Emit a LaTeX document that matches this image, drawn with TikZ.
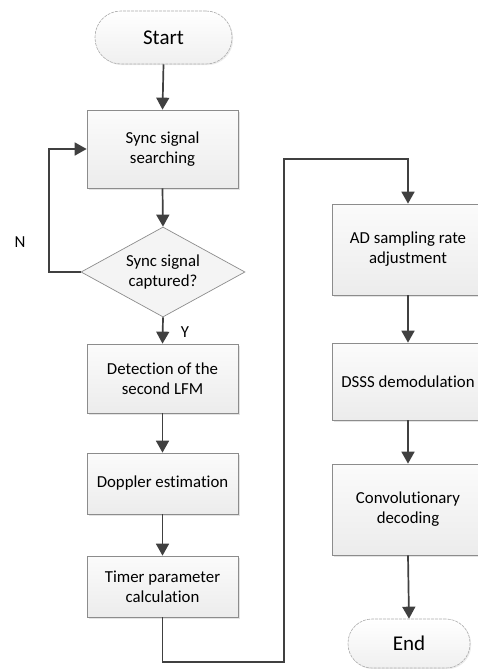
\documentclass[tikz,border=0pt]{standalone}
\usepackage{fontspec}
\setmainfont{Carlito}[Ligatures=NoCommon]
\usetikzlibrary{arrows.meta,shapes.geometric,shadows,calc}
\definecolor{linec}{HTML}{404040}
\definecolor{edgec}{HTML}{8C8C8C}
\begin{document}
\begin{tikzpicture}[x=1pt,y=-1pt,
  base/.style={font=\fontsize{16.8}{20}\selectfont, align=center, inner sep=0pt, text=black},
  procbox/.style={base, rectangle, draw=edgec, line width=0.7pt,
     top color=gray!3, bottom color=gray!15,
     minimum width=151pt,
     drop shadow={shadow xshift=1.6pt, shadow yshift=-1.6pt, fill=gray!35, opacity=0.6}},
  termbox/.style={base, font=\fontsize{21}{24}\selectfont, rectangle, draw=gray!65,
     line width=0.6pt, dash pattern=on 3pt off 1pt,
     top color=white, bottom color=gray!12,
     drop shadow={shadow xshift=1.2pt, shadow yshift=-1.2pt, fill=gray!30, opacity=0.5}},
  decbox/.style={base, diamond, draw=edgec, line width=0.7pt,
     fill=gray!9, minimum width=164pt, minimum height=90pt, aspect=1.82},
  arr/.style={draw=linec, line width=1.7pt, -{Triangle[length=12pt,width=13pt]}},
  lbl/.style={base}]
\useasboundingbox (0,0) rectangle (477,669);

% left column
\node[termbox, minimum width=137pt, minimum height=53pt, rounded corners=26pt] (start) at (163.5,37.5) {Start};
\node[procbox, minimum height=78pt] (sync) at (162.5,149) {Sync signal\\searching};
\node[decbox] (dec) at (163,272) {Sync signal\\captured?};
\node[procbox, minimum height=69pt] (det) at (162.5,378.5) {Detection of the\\second LFM};
\node[procbox, minimum height=61pt] (dop) at (162.5,483.5) {Doppler estimation};
\node[procbox, minimum height=61pt] (tim) at (162.5,586.5) {Timer parameter\\calculation};

% right column
\node[procbox, minimum width=152pt, minimum height=91pt] (ad) at (408,249.5) {AD sampling rate\\adjustment};
\node[procbox, minimum width=152pt, minimum height=77pt] (dsss) at (408,381.5) {DSSS demodulation};
\node[procbox, minimum width=152pt, minimum height=91pt] (conv) at (408,509.5) {Convolutionary\\decoding};
\node[termbox, minimum width=122pt, minimum height=49pt, rounded corners=24pt] (endn) at (409,643.5) {End};

% labels
\node[lbl] (nlab) at (20,242) {N};
\node[lbl] (ylab) at (185,332) {Y};

% helper coordinates
\coordinate (loopx) at (49,0);
\coordinate (lowy) at (0,662);
\coordinate (colx) at (284,159);

% connectors
\draw[arr] (start.south) -- (sync.north);
\draw[arr] (sync.south) -- (dec.north);
\draw[arr] (dec.west) -- (dec.west -| loopx) |- (sync.west);
\draw[arr] (dec.south) -- (det.north);
\draw[arr] (det.south) -- (dop.north);
\draw[arr] (dop.south) -- (tim.north);
\draw[arr] (tim.south) -- (tim.south |- lowy) -| (colx) -| (ad.north);
\draw[arr] (ad.south) -- (dsss.north);
\draw[arr] (dsss.south) -- (conv.north);
\draw[arr] (conv.south) -- (endn.north);
\end{tikzpicture}
\end{document}
